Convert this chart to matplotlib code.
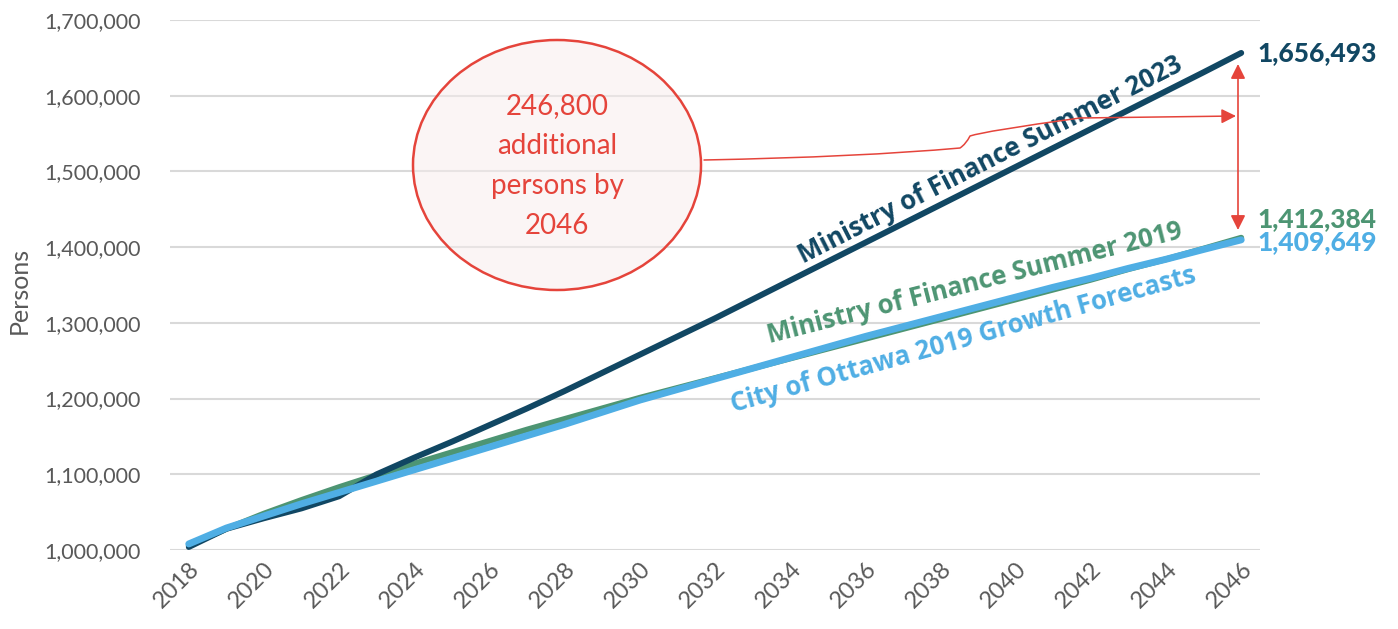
import numpy as np
import matplotlib.pyplot as plt
from matplotlib.patches import Ellipse, FancyArrowPatch
from matplotlib.path import Path
from matplotlib.ticker import FuncFormatter

# datos
years = list(range(2018, 2047))
mof2023 = [1004000, 1028000, 1042000, 1055000, 1071000, 1100000, 1122000, 1143000,
           1165000, 1187000, 1210000, 1234000, 1258000, 1282000, 1306000, 1331000,
           1356000, 1381000, 1406000, 1431000, 1456000, 1481000, 1506000, 1531000,
           1556000, 1581000, 1606000, 1631000, 1656493]
mof2019 = [1006000, 1028000, 1048000, 1066000, 1083000, 1099000, 1114000, 1129000,
           1144000, 1159000, 1173000, 1187000, 1201000, 1214000, 1227000, 1240000,
           1253000, 1266000, 1279000, 1292000, 1305000, 1318000, 1331000, 1344000,
           1357000, 1371000, 1384000, 1398000, 1412384]
ottawa2019 = [1008000, 1029000, 1045000, 1061000, 1076000, 1091000, 1106000, 1121000,
              1136000, 1151000, 1166000, 1182000, 1198000, 1212000, 1226000, 1240000,
              1254000, 1268000, 1282000, 1295000, 1308000, 1321000, 1334000, 1347000,
              1359000, 1372000, 1384000, 1397000, 1409649]
xticks = list(range(2018, 2047, 2))
yticks = list(range(1000000, 1700001, 100000))
gap_text = "246,800\nadditional\npersons by\n2046"

navy = "#114763"
green = "#4D9573"
blue = "#4FAEE4"
red = "#E5443B"
grey = "#595959"

fig = plt.figure(figsize=(13.98, 6.29), dpi=100)
W, H = 1398, 629
ax = fig.add_axes([170 / W, 1 - 550 / H, 1090 / W, 530 / H])
ax.set_xlim(2017.5, 2046.5)
ax.set_ylim(1000000, 1700000)


def px(x, y):
    # pixel de la imagen -> coordenadas de datos
    return 2017.5 + (x - 170) / 1090 * 29, 1.0e6 + (550 - y) / 530 * 7e5


ax.plot(years, mof2019, color=green, lw=4.3, solid_capstyle="round", zorder=3)
ax.plot(years, mof2023, color=navy, lw=4.3, solid_capstyle="round", zorder=4)
ax.plot(years, ottawa2019, color=blue, lw=5.0, solid_capstyle="round", zorder=5)

ax.set_xticks(xticks)
ax.set_yticks(yticks)
ax.yaxis.set_major_formatter(FuncFormatter(lambda v, p: f"{int(v):,}"))
ax.grid(axis="y", color="#D9D9D9", lw=1.5)
ax.set_axisbelow(True)
for s in ax.spines.values():
    s.set_visible(False)
ax.tick_params(length=0, labelcolor=grey)
ax.tick_params(axis="y", labelsize=15.5, pad=21)
ax.tick_params(axis="x", labelsize=17, pad=6)
for lab in ax.get_yticklabels():
    lab.set_family("Lato")
for lab in ax.get_xticklabels():
    lab.set_family("Lato")
    lab.set_rotation(45)
    lab.set_ha("right")
    lab.set_rotation_mode("anchor")
ax.set_ylabel("Persons", fontsize=18, color=grey, family="Lato")
ax.yaxis.set_label_coords(-0.128, 0.49)

# etiquetas de series
ax.text(*px(990, 160), "Ministry of Finance Summer 2023", color=navy, fontsize=18.5,
        family="Open Sans", weight="bold", rotation=27, rotation_mode="anchor",
        ha="center", va="center", zorder=6)
ax.text(*px(975, 283), "Ministry of Finance Summer 2019", color=green, fontsize=18.5,
        family="Open Sans", weight="bold", rotation=14.3, rotation_mode="anchor",
        ha="center", va="center", zorder=6)
ax.text(*px(963, 340), "City of Ottawa 2019 Growth Forecasts", color=blue, fontsize=18.5,
        family="Open Sans", weight="bold", rotation=15.7, rotation_mode="anchor",
        ha="center", va="center", zorder=6)

# valores finales
for val, col, yp in [(mof2023[-1], navy, 53), (mof2019[-1], green, 219), (ottawa2019[-1], blue, 242)]:
    ax.text(px(1257, 0)[0], px(0, yp)[1], f"{val:,}", color=col, fontsize=19,
            family="Lato", weight="black", ha="left", va="center", clip_on=False)

# elipse con texto
cx, cy = px(557, 165)
ew = 288 / 1090 * 29
eh = 250 / 530 * 7e5
ax.add_patch(Ellipse((cx, cy), ew, eh, facecolor="#F8EDED", alpha=0.5, edgecolor="none", zorder=2))
ax.add_patch(Ellipse((cx, cy), ew, eh, facecolor="none", edgecolor=red, lw=1.8, zorder=6))
ax.text(cx, px(0, 166)[1], gap_text, color=red, fontsize=20, family="Lato", ha="center",
        va="center", linespacing=1.68, zorder=7)

# flecha doble vertical
xa = px(1238, 0)[0]
ax.annotate("", xy=(xa, px(0, 64)[1]), xytext=(xa, px(0, 230)[1]),
            arrowprops=dict(arrowstyle="<|-|>", color=red, lw=1.2, mutation_scale=22,
                            shrinkA=0, shrinkB=0), zorder=7)

# conector curvo
verts = [px(704, 160), px(860, 157), px(960, 148), px(966, 144),
         px(970, 136), px(985, 131), px(1080, 118), px(1236, 116)]
codes = [Path.MOVETO, Path.CURVE3, Path.CURVE3, Path.CURVE3,
         Path.CURVE3, Path.CURVE3, Path.CURVE3, Path.LINETO]
arr = FancyArrowPatch(path=Path(verts, codes), arrowstyle="-|>", color=red, lw=1.1,
                      mutation_scale=22, zorder=7)
ax.add_patch(arr)

plt.savefig("out.png", dpi=100)
